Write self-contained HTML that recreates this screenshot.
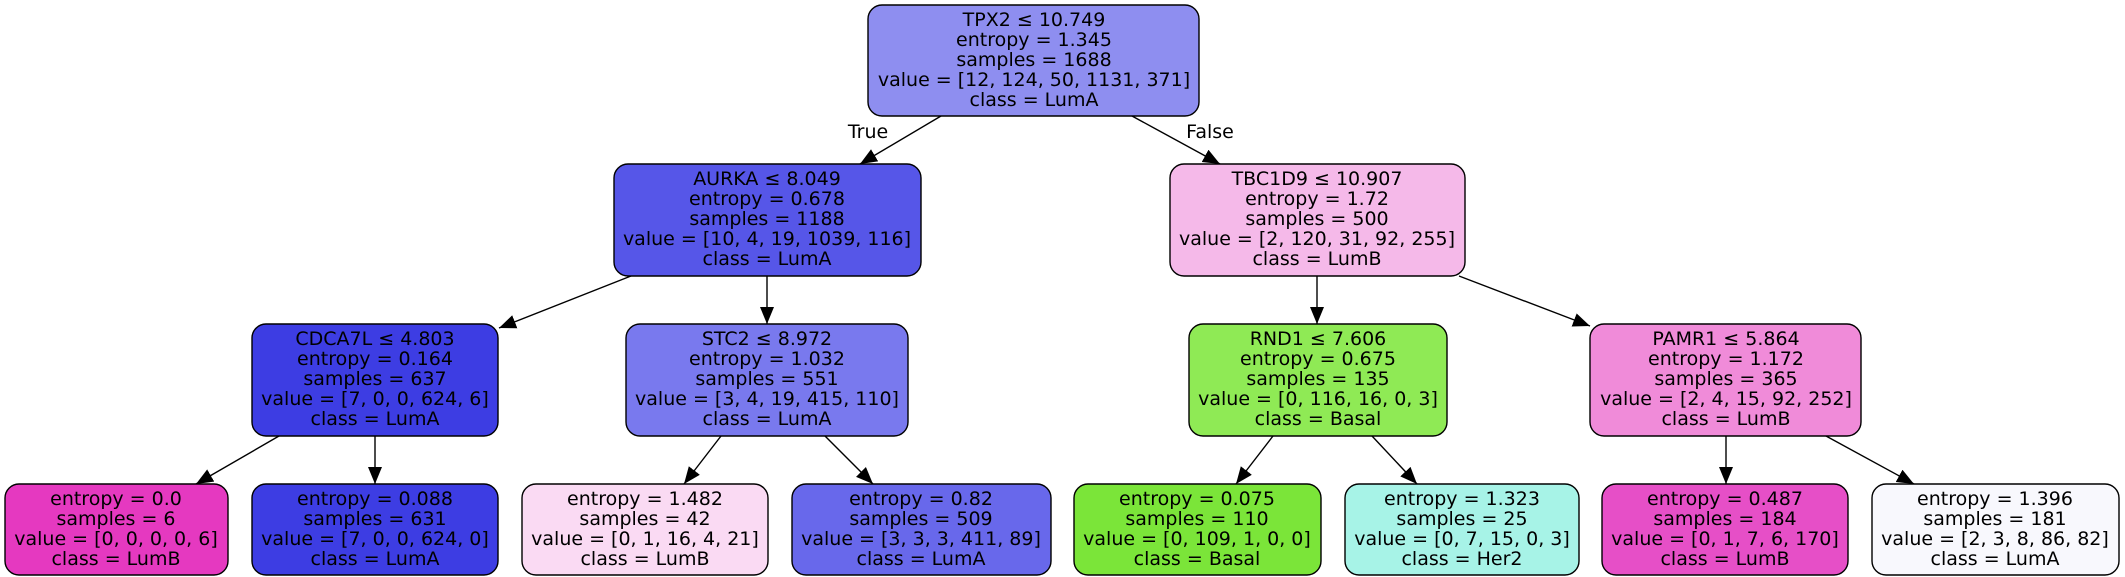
<!DOCTYPE html>
<html><head><meta charset="utf-8"><style>
html,body{margin:0;padding:0;background:#fff;}
svg{display:block}
text{font-family:"DejaVu Sans","Liberation Sans",sans-serif;font-size:19px;fill:#000;text-anchor:middle}
rect{stroke:#000;stroke-width:1.4}
line{stroke:#000;stroke-width:1.4}
</style></head><body>
<svg width="2125" height="577" viewBox="0 0 2125 577" xmlns="http://www.w3.org/2000/svg">
<defs>
<marker id="a" markerUnits="userSpaceOnUse" markerWidth="20" markerHeight="16" refX="17" refY="7" orient="auto">
<path d="M0,0 L17,7 L0,14 Z" fill="#000"/>
</marker>
</defs>
<!-- edges -->
<line x1="941" y1="116" x2="860" y2="164" marker-end="url(#a)"/>
<line x1="1132" y1="116" x2="1220" y2="164" marker-end="url(#a)"/>
<text x="868" y="138">True</text>
<text x="1210" y="138">False</text>
<line x1="631" y1="276" x2="499" y2="328" marker-end="url(#a)"/>
<line x1="767" y1="276" x2="767" y2="324" marker-end="url(#a)"/>
<line x1="1317" y1="276" x2="1317" y2="324" marker-end="url(#a)"/>
<line x1="1459" y1="276" x2="1590" y2="326" marker-end="url(#a)"/>
<line x1="279" y1="436" x2="196" y2="484" marker-end="url(#a)"/>
<line x1="375" y1="436" x2="375" y2="484" marker-end="url(#a)"/>
<line x1="721" y1="436" x2="684" y2="484" marker-end="url(#a)"/>
<line x1="825" y1="436" x2="873" y2="484" marker-end="url(#a)"/>
<line x1="1273" y1="436" x2="1236" y2="484" marker-end="url(#a)"/>
<line x1="1372" y1="436" x2="1417" y2="484" marker-end="url(#a)"/>
<line x1="1726" y1="436" x2="1726" y2="484" marker-end="url(#a)"/>
<line x1="1826" y1="436" x2="1914" y2="484" marker-end="url(#a)"/>
<!-- root -->
<rect x="868" y="5" width="331" height="111" rx="14" fill="#8e8ef0"/>
<text x="1034" y="26">TPX2 ≤ 10.749</text>
<text x="1034" y="46">entropy = 1.345</text>
<text x="1034" y="66">samples = 1688</text>
<text x="1034" y="86">value = [12, 124, 50, 1131, 371]</text>
<text x="1034" y="106">class = LumA</text>
<!-- level 2 -->
<rect x="614" y="164" width="307" height="112" rx="14" fill="#5656e8"/>
<text x="767" y="185">AURKA ≤ 8.049</text>
<text x="767" y="205">entropy = 0.678</text>
<text x="767" y="225">samples = 1188</text>
<text x="767" y="245">value = [10, 4, 19, 1039, 116]</text>
<text x="767" y="265">class = LumA</text>
<rect x="1170" y="164" width="295" height="112" rx="14" fill="#f5b9e9"/>
<text x="1317" y="185">TBC1D9 ≤ 10.907</text>
<text x="1317" y="205">entropy = 1.72</text>
<text x="1317" y="225">samples = 500</text>
<text x="1317" y="245">value = [2, 120, 31, 92, 255]</text>
<text x="1317" y="265">class = LumB</text>
<!-- level 3 -->
<rect x="252" y="324" width="246" height="112" rx="14" fill="#3d3de3"/>
<text x="375" y="345">CDCA7L ≤ 4.803</text>
<text x="375" y="365">entropy = 0.164</text>
<text x="375" y="385">samples = 637</text>
<text x="375" y="405">value = [7, 0, 0, 624, 6]</text>
<text x="375" y="425">class = LumA</text>
<rect x="626" y="324" width="282" height="112" rx="14" fill="#7979ee"/>
<text x="767" y="345">STC2 ≤ 8.972</text>
<text x="767" y="365">entropy = 1.032</text>
<text x="767" y="385">samples = 551</text>
<text x="767" y="405">value = [3, 4, 19, 415, 110]</text>
<text x="767" y="425">class = LumA</text>
<rect x="1189" y="324" width="258" height="112" rx="14" fill="#8fea55"/>
<text x="1318" y="345">RND1 ≤ 7.606</text>
<text x="1318" y="365">entropy = 0.675</text>
<text x="1318" y="385">samples = 135</text>
<text x="1318" y="405">value = [0, 116, 16, 0, 3]</text>
<text x="1318" y="425">class = Basal</text>
<rect x="1590" y="324" width="271" height="112" rx="14" fill="#f08bd9"/>
<text x="1726" y="345">PAMR1 ≤ 5.864</text>
<text x="1726" y="365">entropy = 1.172</text>
<text x="1726" y="385">samples = 365</text>
<text x="1726" y="405">value = [2, 4, 15, 92, 252]</text>
<text x="1726" y="425">class = LumB</text>
<!-- leaves -->
<rect x="5" y="484" width="223" height="91" rx="14" fill="#e539c0"/>
<text x="116" y="505">entropy = 0.0</text>
<text x="116" y="525">samples = 6</text>
<text x="116" y="545">value = [0, 0, 0, 0, 6]</text>
<text x="116" y="565">class = LumB</text>
<rect x="252" y="484" width="246" height="91" rx="14" fill="#3d3de3"/>
<text x="375" y="505">entropy = 0.088</text>
<text x="375" y="525">samples = 631</text>
<text x="375" y="545">value = [7, 0, 0, 624, 0]</text>
<text x="375" y="565">class = LumA</text>
<rect x="522" y="484" width="246" height="91" rx="14" fill="#fadaf3"/>
<text x="645" y="505">entropy = 1.482</text>
<text x="645" y="525">samples = 42</text>
<text x="645" y="545">value = [0, 1, 16, 4, 21]</text>
<text x="645" y="565">class = LumB</text>
<rect x="792" y="484" width="259" height="91" rx="14" fill="#6868eb"/>
<text x="921" y="505">entropy = 0.82</text>
<text x="921" y="525">samples = 509</text>
<text x="921" y="545">value = [3, 3, 3, 411, 89]</text>
<text x="921" y="565">class = LumA</text>
<rect x="1074" y="484" width="247" height="91" rx="14" fill="#7be539"/>
<text x="1197" y="505">entropy = 0.075</text>
<text x="1197" y="525">samples = 110</text>
<text x="1197" y="545">value = [0, 109, 1, 0, 0]</text>
<text x="1197" y="565">class = Basal</text>
<rect x="1345" y="484" width="234" height="91" rx="14" fill="#a7f3e7"/>
<text x="1462" y="505">entropy = 1.323</text>
<text x="1462" y="525">samples = 25</text>
<text x="1462" y="545">value = [0, 7, 15, 0, 3]</text>
<text x="1462" y="565">class = Her2</text>
<rect x="1602" y="484" width="246" height="91" rx="14" fill="#e64fc7"/>
<text x="1725" y="505">entropy = 0.487</text>
<text x="1725" y="525">samples = 184</text>
<text x="1725" y="545">value = [0, 1, 7, 6, 170]</text>
<text x="1725" y="565">class = LumB</text>
<rect x="1872" y="484" width="247" height="91" rx="14" fill="#f8f8fd"/>
<text x="1995" y="505">entropy = 1.396</text>
<text x="1995" y="525">samples = 181</text>
<text x="1995" y="545">value = [2, 3, 8, 86, 82]</text>
<text x="1995" y="565">class = LumA</text>
</svg>
</body></html>
